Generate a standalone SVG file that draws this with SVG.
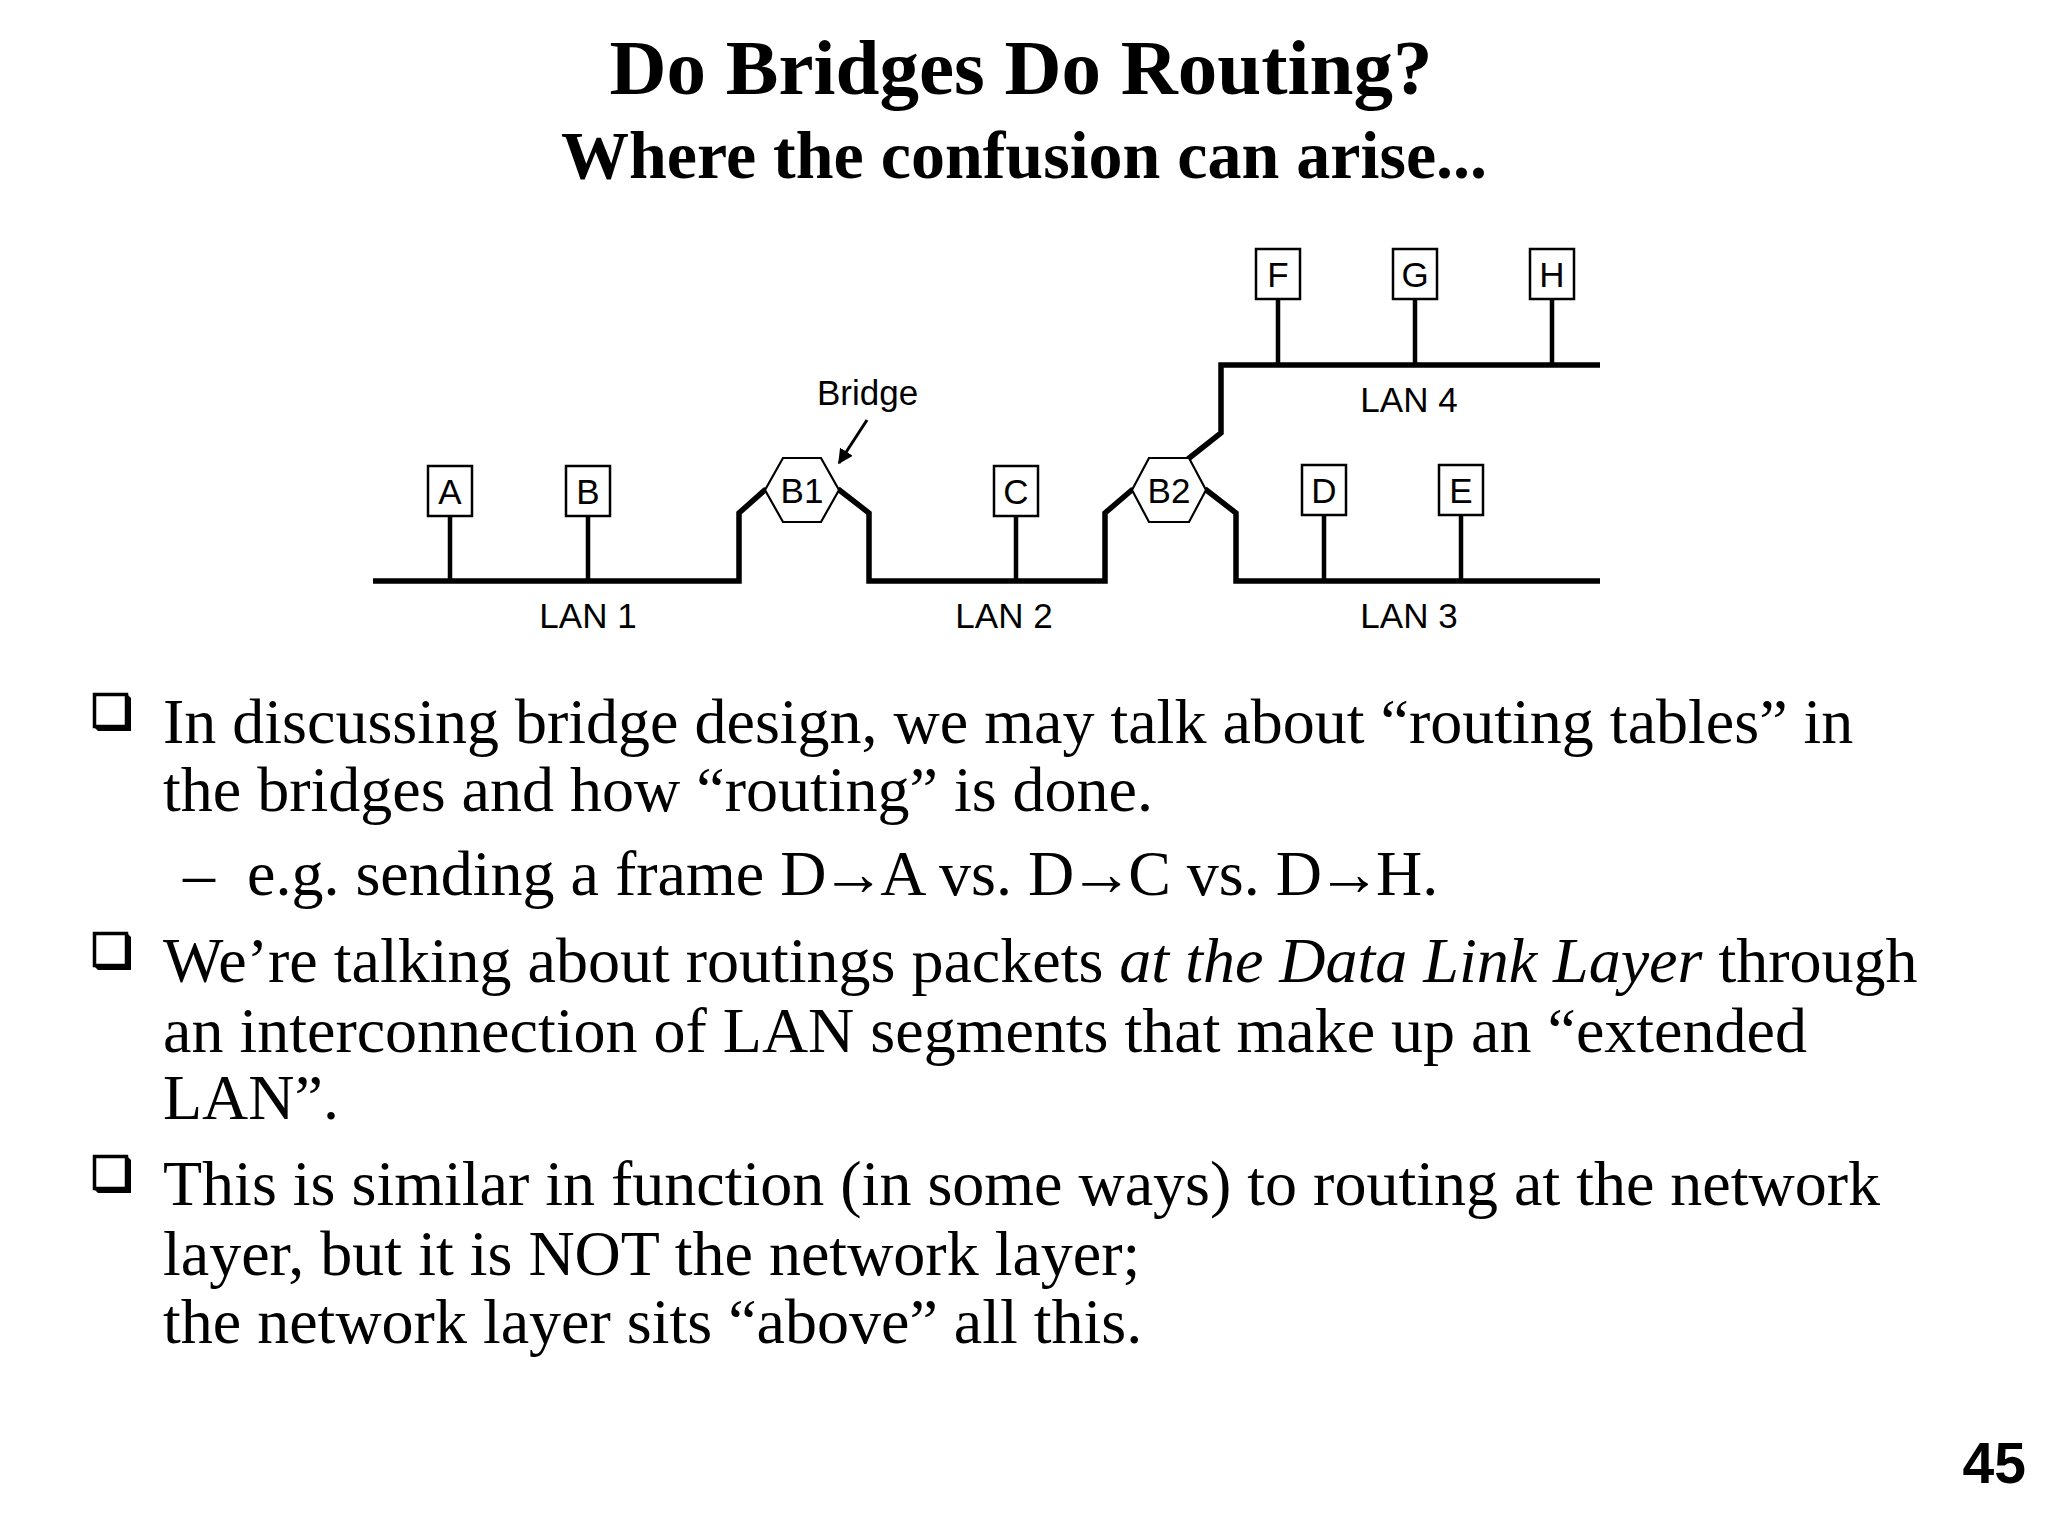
<svg xmlns="http://www.w3.org/2000/svg" width="2048" height="1536" viewBox="0 0 2048 1536">
  <style>
    .title { font-family: "Liberation Serif", "Times New Roman", serif; font-weight: bold; fill: #000; }
    .body { font-family: "Liberation Serif", "Times New Roman", serif; font-size: 64px; fill: #000; }
    .lbl { font-family: "Liberation Sans", Arial, sans-serif; font-size: 35px; fill: #000; }
    .node { font-family: "Liberation Sans", Arial, sans-serif; font-size: 35px; fill: #000; text-anchor: middle; }
    .box { fill: #fff; stroke: #000; stroke-width: 2.5; }
    .hex { fill: #fff; stroke: #000; stroke-width: 2.2; }
    .lan { fill: none; stroke: #000; stroke-width: 5.5; stroke-linejoin: miter; }
    .stem { fill: none; stroke: #000; stroke-width: 4.5; }
  </style>
  <defs>
    <g id="bullet">
      <rect x="1.5" y="1.5" width="32" height="32" fill="#fff" stroke="#000" stroke-width="3.5"/>
      <polygon points="33,0 38,5 38,38 5,38 0,33 33,33" fill="#000"/>
    </g>
    <marker id="arrowhead" viewBox="0 0 10 10" refX="9" refY="5" markerWidth="5" markerHeight="5" orient="auto" markerUnits="strokeWidth">
      <path d="M0,0 L10,5 L0,10 z" fill="#000"/>
    </marker>
  </defs>
  <rect width="2048" height="1536" fill="#fff"/>

  <text class="title" x="1021" y="94" font-size="79" text-anchor="middle">Do Bridges Do Routing?</text>
  <text class="title" x="1024" y="178" font-size="68" text-anchor="middle">Where the confusion can arise...</text>

  <g id="connectors">
    <path class="lan" d="M373,581 H739 V513 L766,489"/>
    <path class="lan" d="M838,489 L869,513 V581 H1105 V513 L1133,489"/>
    <path class="lan" d="M1205,489 L1236,513 V581 H1600"/>
    <path class="lan" d="M1188,459 L1221,433 V365 H1600"/>
    <path class="stem" d="M450,516 V581 M588,516 V581 M1016,516 V581 M1324,515 V581 M1461,515 V581 M1278,299 V365 M1415,299 V365 M1552,299 V365"/>
    <line x1="867" y1="420" x2="839" y2="463" stroke="#000" stroke-width="3" marker-end="url(#arrowhead)"/>
  </g>

  <g id="node-A"><rect class="box" x="428" y="466" width="44" height="50"/><text class="node" x="450" y="504">A</text></g>
  <g id="node-B"><rect class="box" x="566" y="466" width="44" height="50"/><text class="node" x="588" y="504">B</text></g>
  <g id="node-C"><rect class="box" x="994" y="466" width="44" height="50"/><text class="node" x="1016" y="504">C</text></g>
  <g id="node-D"><rect class="box" x="1302" y="465" width="44" height="50"/><text class="node" x="1324" y="503">D</text></g>
  <g id="node-E"><rect class="box" x="1439" y="465" width="44" height="50"/><text class="node" x="1461" y="503">E</text></g>
  <g id="node-F"><rect class="box" x="1256" y="249" width="44" height="50"/><text class="node" x="1278" y="287">F</text></g>
  <g id="node-G"><rect class="box" x="1393" y="249" width="44" height="50"/><text class="node" x="1415" y="287">G</text></g>
  <g id="node-H"><rect class="box" x="1530" y="249" width="44" height="50"/><text class="node" x="1552" y="287">H</text></g>
  <g id="node-B1"><polygon class="hex" points="765,490 783,458 821,458 839,490 821,522 783,522"/><text class="node" x="802" y="503">B1</text></g>
  <g id="node-B2"><polygon class="hex" points="1132,490 1149,458 1189,458 1206,490 1189,522 1149,522"/><text class="node" x="1169" y="503">B2</text></g>

  <g id="labels">
    <text class="lbl" x="817" y="405">Bridge</text>
    <text class="lbl" x="588" y="628" text-anchor="middle">LAN 1</text>
    <text class="lbl" x="1004" y="628" text-anchor="middle">LAN 2</text>
    <text class="lbl" x="1409" y="628" text-anchor="middle">LAN 3</text>
    <text class="lbl" x="1409" y="412" text-anchor="middle">LAN 4</text>
  </g>

  <g id="text">
    <use href="#bullet" x="93" y="693"/>
    <use href="#bullet" x="93" y="932"/>
    <use href="#bullet" x="93" y="1155"/>
    <text class="body" x="163" y="743">In discussing bridge design, we may talk about “routing tables” in</text>
    <text class="body" x="163" y="811">the bridges and how “routing” is done.</text>
    <text class="body" x="183" y="895">–</text>
    <text class="body" x="247" y="895">e.g. sending a frame D<tspan dx="-5">→</tspan><tspan dx="-5">A</tspan> vs. D<tspan dx="-5">→</tspan><tspan dx="-5">C</tspan> vs. D<tspan dx="-5">→</tspan><tspan dx="-5">H.</tspan></text>
    <text class="body" x="163" y="982">We’re talking about routings packets <tspan font-style="italic">at the Data Link Layer</tspan> through</text>
    <text class="body" x="163" y="1052">an interconnection of LAN segments that make up an “extended</text>
    <text class="body" x="163" y="1119">LAN”.</text>
    <text class="body" x="163" y="1205">This is similar in function (in some ways) to routing at the network</text>
    <text class="body" x="163" y="1275">layer, but it is NOT the network layer;</text>
    <text class="body" x="163" y="1343">the network layer sits “above” all this.</text>
  </g>

  <text x="2026" y="1483" font-family="'Liberation Sans', Arial, sans-serif" font-weight="bold" font-size="57" text-anchor="end">45</text>
</svg>
